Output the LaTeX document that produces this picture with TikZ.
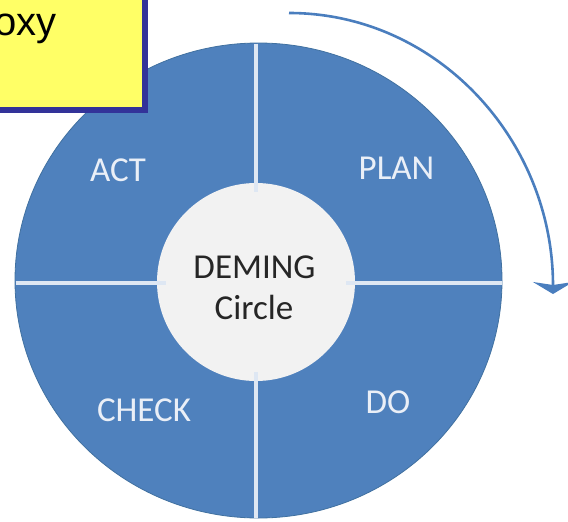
\documentclass[tikz,border=0pt]{standalone}
\usepackage{fontspec}
\setmainfont{Carlito}
\newfontfamily\notefont{Liberation Sans}
\usetikzlibrary{arrows.meta}
\definecolor{segblue}{RGB}{79,129,189}
\definecolor{edgeblue}{RGB}{65,113,160}
\definecolor{divline}{RGB}{222,231,243}
\definecolor{hubfill}{RGB}{242,242,242}
\definecolor{labelwhite}{RGB}{234,239,247}
\definecolor{hubtext}{RGB}{38,38,38}
\definecolor{noteyellow}{RGB}{255,255,102}
\definecolor{noteborder}{RGB}{51,51,153}
\definecolor{arrowblue}{RGB}{74,126,190}
\tikzset{
  seglabel/.style={font=\fontsize{35}{40}\selectfont, text=labelwhite, inner sep=0pt},
  hublabel/.style={font=\fontsize{35}{40}\selectfont, text=hubtext, inner sep=0pt},
  divider/.style={draw=divline, line width=4.5pt},
}
\begin{document}
\begin{tikzpicture}[x=1pt,y=-1pt]
\useasboundingbox (0,0) rectangle (568,522);
% outer disc
\fill[segblue] (258.5,280.5) ellipse [x radius=243.5pt, y radius=237.5pt];
\draw[edgeblue, line width=0.8pt] (258.5,280.5) ellipse [x radius=243.5pt, y radius=237.5pt];
% hub
\node[circle, fill=hubfill, minimum size=198pt, inner sep=0pt] (hub) at (256,282) {};
% dividers
\coordinate (vt) at (256,43.5);
\coordinate (vti) at (256,192);
\coordinate (vb) at (256,517.5);
\coordinate (vbi) at (256,372);
\coordinate (hl) at (15.5,283);
\coordinate (hli) at (166,283);
\coordinate (hr) at (501.5,283);
\coordinate (hri) at (346,283);
\draw[divider] (vt) -- (vti);
\draw[divider] (vb) -- (vbi);
\draw[divider] (hl) -- (hli);
\draw[divider] (hr) -- (hri);
% labels
\node[seglabel] (act) at (118,170) {ACT};
\node[seglabel] (plan) at (396.5,168) {PLAN};
\node[seglabel] (check) at (144,410) {CHECK};
\node[seglabel] (do) at (388,402) {DO};
\node[hublabel] (deming) at (254.5,267) {DEMING};
\node[hublabel] (circ) at (254,307) {Circle};
% arrow
\coordinate (arcstart) at (289,13);
\coordinate (arctip) at (553,294);
\draw[arrowblue, line width=2.6pt, -{Stealth[length=12pt, width=40pt, inset=3pt]}]
  (arcstart) .. controls (437,13) and (553,140) .. (arctip);
% note box
\filldraw[fill=noteyellow, draw=noteborder, line width=6pt] (-20,-20) rectangle (145,110);
\node[font=\notefont\fontsize{40}{46}\selectfont, anchor=base west, inner sep=0pt] (note) at (-6,35) {oxy};
\end{tikzpicture}
\end{document}
